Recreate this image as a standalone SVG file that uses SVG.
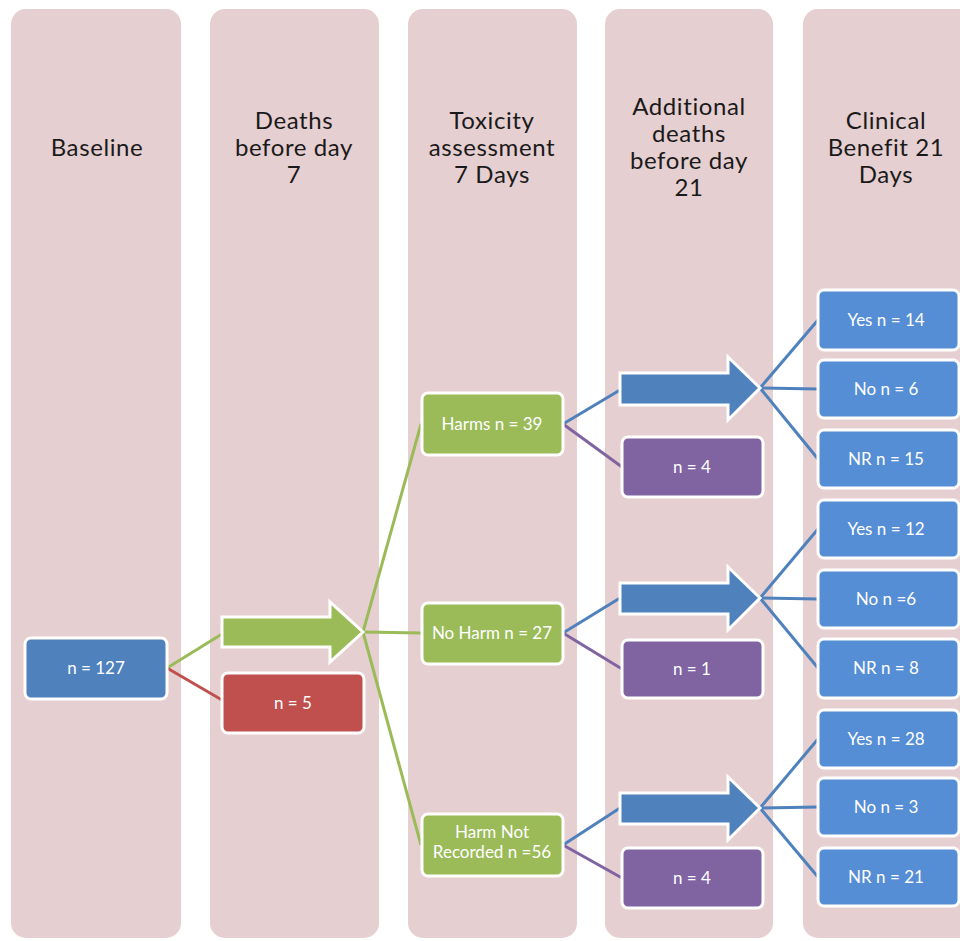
<svg xmlns="http://www.w3.org/2000/svg" width="960" height="941" viewBox="0 0 960 941">
<style>
.col{fill:#e6cfd1}
.hdr{font-family:Lato,"Open Sans","Liberation Sans",sans-serif;font-size:24px;letter-spacing:0.6px;fill:#1a1a1a;text-anchor:middle}
.lbl{font-family:Lato,"Open Sans","Liberation Sans",sans-serif;font-size:17px;fill:#ffffff;text-anchor:middle}
.box{stroke:#ffffff;stroke-width:3}
.g{fill:#9bbb59}.r{fill:#c0504d}.p{fill:#8064a2}.b{fill:#4f81bd}.lb{fill:#558ed5}
.arr{stroke:#ffffff;stroke-width:3;stroke-linejoin:miter}
.cn{fill:none;stroke-width:3}
.cg{stroke:#9bbb59}.cr{stroke:#c0504d}.cb{stroke:#4f81bd}.cp{stroke:#8064a2}
</style>
<rect width="960" height="941" fill="#ffffff"/>
<g id="columns">
<rect class="col" x="11" y="9" width="170" height="929" rx="15"/>
<rect class="col" x="210" y="9" width="169" height="929" rx="15"/>
<rect class="col" x="408" y="9" width="169" height="929" rx="15"/>
<rect class="col" x="605" y="9" width="168" height="929" rx="15"/>
<rect class="col" x="803" y="9" width="180" height="929" rx="15"/>
<text class="hdr" x="97" y="156">Baseline</text>
<text class="hdr" x="294" y="129">Deaths</text>
<text class="hdr" x="294" y="156">before day</text>
<text class="hdr" x="294" y="183">7</text>
<text class="hdr" x="492" y="129">Toxicity</text>
<text class="hdr" x="492" y="156">assessment</text>
<text class="hdr" x="492" y="183">7 Days</text>
<text class="hdr" x="689" y="115">Additional</text>
<text class="hdr" x="689" y="142">deaths</text>
<text class="hdr" x="689" y="169">before day</text>
<text class="hdr" x="689" y="196">21</text>
<text class="hdr" x="886" y="129">Clinical</text>
<text class="hdr" x="886" y="156">Benefit 21</text>
<text class="hdr" x="886" y="183">Days</text>
</g>
<g id="connectors">
<line class="cn cg" x1="167" y1="668" x2="222" y2="634"/>
<line class="cn cr" x1="167" y1="668" x2="222" y2="700"/>
<line class="cn cg" x1="363" y1="632" x2="421" y2="424"/>
<line class="cn cg" x1="363" y1="632" x2="421" y2="633"/>
<line class="cn cg" x1="363" y1="632" x2="421" y2="845"/>
<line class="cn cb" x1="563" y1="424" x2="620" y2="390"/>
<line class="cn cp" x1="563" y1="424" x2="622" y2="467"/>
<line class="cn cb" x1="563" y1="633" x2="620" y2="598"/>
<line class="cn cp" x1="563" y1="633" x2="622" y2="669"/>
<line class="cn cb" x1="563" y1="845" x2="620" y2="808"/>
<line class="cn cp" x1="563" y1="845" x2="622" y2="878"/>
<line class="cn cb" x1="760" y1="388" x2="818" y2="320"/>
<line class="cn cb" x1="760" y1="388" x2="818" y2="389"/>
<line class="cn cb" x1="760" y1="388" x2="818" y2="459"/>
<line class="cn cb" x1="760" y1="598" x2="818" y2="529"/>
<line class="cn cb" x1="760" y1="598" x2="818" y2="599"/>
<line class="cn cb" x1="760" y1="598" x2="818" y2="668"/>
<line class="cn cb" x1="760" y1="808" x2="818" y2="739"/>
<line class="cn cb" x1="760" y1="808" x2="818" y2="807"/>
<line class="cn cb" x1="760" y1="808" x2="818" y2="877"/>
<polygon class="arr g" points="222,617 330,617 330,602 363,632 330,662 330,647 222,647"/>
<polygon class="arr b" points="620,373 728,373 728,357 760,388 728,420 728,405 620,405"/>
<polygon class="arr b" points="620,583 728,583 728,567 760,598 728,630 728,614 620,614"/>
<polygon class="arr b" points="620,793 728,793 728,777 760,808 728,840 728,824 620,824"/>
</g>
<g id="n127"><rect class="box b" x="25" y="638" width="142" height="61" rx="6"/><text class="lbl" x="96" y="674">n = 127</text></g>
<g id="d5"><rect class="box r" x="222" y="673" width="142" height="60" rx="6"/><text class="lbl" x="293" y="709">n = 5</text></g>
<g id="harms"><rect class="box g" x="422" y="393" width="141" height="62" rx="6"/><text class="lbl" x="492" y="430">Harms n = 39</text></g>
<g id="noharm"><rect class="box g" x="422" y="603" width="141" height="61" rx="6"/><text class="lbl" x="492" y="639">No Harm n = 27</text></g>
<g id="hnr"><rect class="box g" x="422" y="814" width="141" height="62" rx="6"/><text class="lbl" x="492" y="838">Harm Not</text><text class="lbl" x="492" y="858">Recorded n =56</text></g>
<g id="d4a"><rect class="box p" x="622" y="437" width="141" height="60" rx="6"/><text class="lbl" x="692" y="473">n = 4</text></g>
<g id="d1"><rect class="box p" x="622" y="640" width="141" height="58" rx="6"/><text class="lbl" x="692" y="675">n = 1</text></g>
<g id="d4b"><rect class="box p" x="622" y="848" width="141" height="60" rx="6"/><text class="lbl" x="692" y="884">n = 4</text></g>
<g id="yes14"><rect class="box lb" x="818" y="290" width="141" height="60" rx="6"/><text class="lbl" x="886" y="326">Yes n = 14</text></g>
<g id="no6a"><rect class="box lb" x="818" y="360" width="141" height="58" rx="6"/><text class="lbl" x="886" y="395">No n = 6</text></g>
<g id="nr15"><rect class="box lb" x="818" y="430" width="141" height="58" rx="6"/><text class="lbl" x="886" y="465">NR n = 15</text></g>
<g id="yes12"><rect class="box lb" x="818" y="500" width="141" height="58" rx="6"/><text class="lbl" x="886" y="535">Yes n = 12</text></g>
<g id="no6b"><rect class="box lb" x="818" y="570" width="141" height="58" rx="6"/><text class="lbl" x="886" y="605">No n =6</text></g>
<g id="nr8"><rect class="box lb" x="818" y="639" width="141" height="59" rx="6"/><text class="lbl" x="886" y="674">NR n = 8</text></g>
<g id="yes28"><rect class="box lb" x="818" y="710" width="141" height="58" rx="6"/><text class="lbl" x="886" y="745">Yes n = 28</text></g>
<g id="no3"><rect class="box lb" x="818" y="778" width="141" height="58" rx="6"/><text class="lbl" x="886" y="813">No n = 3</text></g>
<g id="nr21"><rect class="box lb" x="818" y="848" width="141" height="58" rx="6"/><text class="lbl" x="886" y="883">NR n = 21</text></g>
</svg>
